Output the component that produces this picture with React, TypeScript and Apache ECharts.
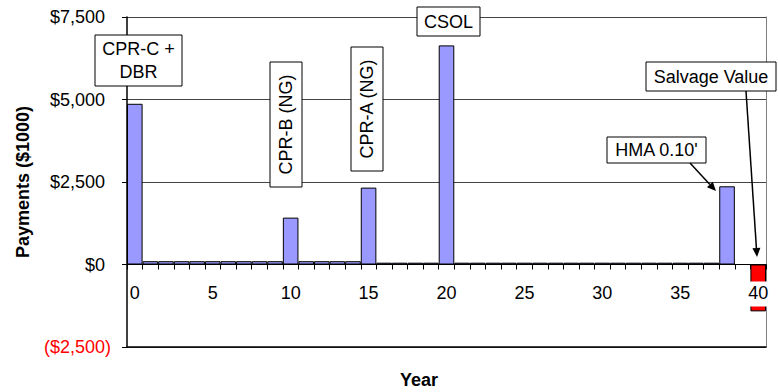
import React, { useEffect, useRef } from "react";
import * as echarts from "echarts";

const years = [
  "0", "1", "2", "3", "4", "5", "6", "7", "8", "9",
  "10", "11", "12", "13", "14", "15", "16", "17", "18", "19",
  "20", "21", "22", "23", "24", "25", "26", "27", "28", "29",
  "30", "31", "32", "33", "34", "35", "36", "37", "38", "39", "40",
];

const payments = [
  4870, 100, 100, 100, 100, 100, 100, 100, 100, 100,
  1420, 100, 100, 100, 100, 2330, 55, 55, 55, 55,
  6640, 55, 55, 55, 55, 55, 55, 55, 55, 55,
  55, 55, 55, 55, 55, 55, 55, 55, 2370, 0, -1420,
];

const yMin = -2500;
const yMax = 7500;
const yStep = 2500;

const FONT = '"Liberation Sans", Arial, sans-serif';

const GRID = { left: 127, right: 12, top: 17, bottom: 45 };
const H = 392;

function fmtMoney(v: number): string {
  const s = Math.abs(v).toLocaleString("en-US");
  return v < 0 ? "($" + s + ")" : "$" + s;
}

function box(x: number, y: number, w: number, h: number, text: string, rotate = 0, lineHeight = 22) {
  return [
    {
      type: "rect",
      shape: { x, y, width: w, height: h },
      style: { fill: "#fff", stroke: "#000", lineWidth: 1 },
      z: 10,
    },
    {
      type: "text",
      x: x + w / 2,
      y: y + h / 2,
      rotation: rotate,
      style: {
        text,
        font: "18px " + FONT,
        fill: "#000",
        textAlign: "center",
        textVerticalAlign: "middle",
        align: "center",
        verticalAlign: "middle",
        lineHeight,
      },
      z: 11,
    },
  ];
}

function arrow(x1: number, y1: number, x2: number, y2: number) {
  const a = Math.atan2(y2 - y1, x2 - x1);
  const L = 9;
  const W = 4;
  const c = Math.cos(a);
  const s = Math.sin(a);
  const bx = x2 - L * c;
  const by = y2 - L * s;
  return [
    {
      type: "line",
      shape: { x1, y1, x2: bx, y2: by },
      style: { stroke: "#000", lineWidth: 1.5 },
      z: 10,
    },
    {
      type: "polygon",
      shape: {
        points: [
          [x2, y2],
          [bx - W * s, by + W * c],
          [bx + W * s, by - W * c],
        ],
      },
      style: { fill: "#000" },
      z: 10,
    },
  ];
}

export default function App() {
  const ref = useRef<HTMLDivElement>(null);

  useEffect(() => {
    if (!ref.current) return;
    const chart = echarts.init(ref.current, undefined, { renderer: "svg" });
    const gridH = H - GRID.top - GRID.bottom;
    const zeroFromBottom = ((0 - yMin) / (yMax - yMin)) * gridH;
    chart.setOption({
      animation: false,
      backgroundColor: "#fff",
      grid: { ...GRID },
      xAxis: [
        {
          type: "category",
          data: years,
          z: 5,
          position: "bottom",
          offset: -zeroFromBottom,
          axisLine: { onZero: false, lineStyle: { color: "#000", width: 1 } },
          axisTick: { show: true, interval: 0, length: 5, lineStyle: { color: "#000" } },
          axisLabel: {
            interval: 4,
            margin: 17,
            fontSize: 18,
            fontFamily: FONT,
            color: "#000",
            backgroundColor: "#fff",
            padding: [2, 1, 5, 1],
            lineHeight: 18,
          },
          splitLine: { show: false },
        },
        {
          type: "category",
          data: years,
          position: "bottom",
          axisLine: { onZero: false, lineStyle: { color: "#000", width: 1.5 } },
          axisTick: { show: false },
          axisLabel: { show: false },
          splitLine: { show: false },
        },
      ],
      yAxis: [
        {
          type: "value",
          min: yMin,
          max: yMax,
          interval: yStep,
          axisLine: { show: true, lineStyle: { color: "#000", width: 1.5 } },
          axisTick: { show: true, length: 5, lineStyle: { color: "#000" } },
          splitLine: { show: true, lineStyle: { color: "#444", width: 1 } },
          axisLabel: {
            margin: 16,
            fontSize: 18,
            fontFamily: FONT,
            formatter: (v: number) =>
              v < 0 ? "{neg|" + fmtMoney(v) + "}" : "{pos|" + fmtMoney(v) + "}",
            rich: {
              pos: { color: "#000", fontSize: 18, fontFamily: FONT, padding: [0, 6, 0, 0] },
              neg: { color: "#ff0000", fontSize: 18, fontFamily: FONT },
            },
          },
        },
        {
          type: "value",
          min: yMin,
          max: yMax,
          interval: yStep,
          position: "right",
          axisLine: { show: true, onZero: false, lineStyle: { color: "#808080", width: 1 } },
          axisTick: { show: false },
          axisLabel: { show: false },
          splitLine: { show: false },
        },
      ],
      series: [
        {
          type: "bar",
          xAxisIndex: 0,
          yAxisIndex: 0,
          data: payments,
          barCategoryGap: "0%",
          barWidth: "100%",
          itemStyle: {
            color: (p: any) => (p.value < 0 ? "#ff0000" : "#9999ff"),
            borderColor: "#000",
            borderWidth: 1,
          },
        },
      ],
      graphic: [
        {
          type: "text",
          x: 23,
          y: 182,
          rotation: Math.PI / 2,
          style: {
            text: "Payments ($1000)",
            font: "bold 18px " + FONT,
            fill: "#000",
            textAlign: "center",
            textVerticalAlign: "middle",
            align: "center",
            verticalAlign: "middle",
          },
        },
        {
          type: "text",
          x: 419,
          y: 380,
          style: {
            text: "Year",
            font: "bold 18px " + FONT,
            fill: "#000",
            textAlign: "center",
            textVerticalAlign: "middle",
            align: "center",
            verticalAlign: "middle",
          },
        },
        ...box(95, 35, 87, 51, "CPR-C +\nDBR", 0, 23),
        ...box(270, 62, 32, 125, "CPR-B (NG)", Math.PI / 2),
        ...box(351, 47, 32, 124, "CPR-A (NG)", Math.PI / 2),
        ...box(417, 7, 63, 29, "CSOL"),
        ...box(646, 62, 130, 29, "Salvage Value"),
        ...box(607, 137, 99, 26, "HMA 0.10'"),
        ...arrow(690, 163, 716, 191),
        ...arrow(746, 91, 757, 257),
      ],
    });
    return () => chart.dispose();
  }, []);

  return (
    <div
      ref={ref}
      style={{ position: "fixed", left: 0, top: 0, width: 778, height: 392 }}
    />
  );
}
